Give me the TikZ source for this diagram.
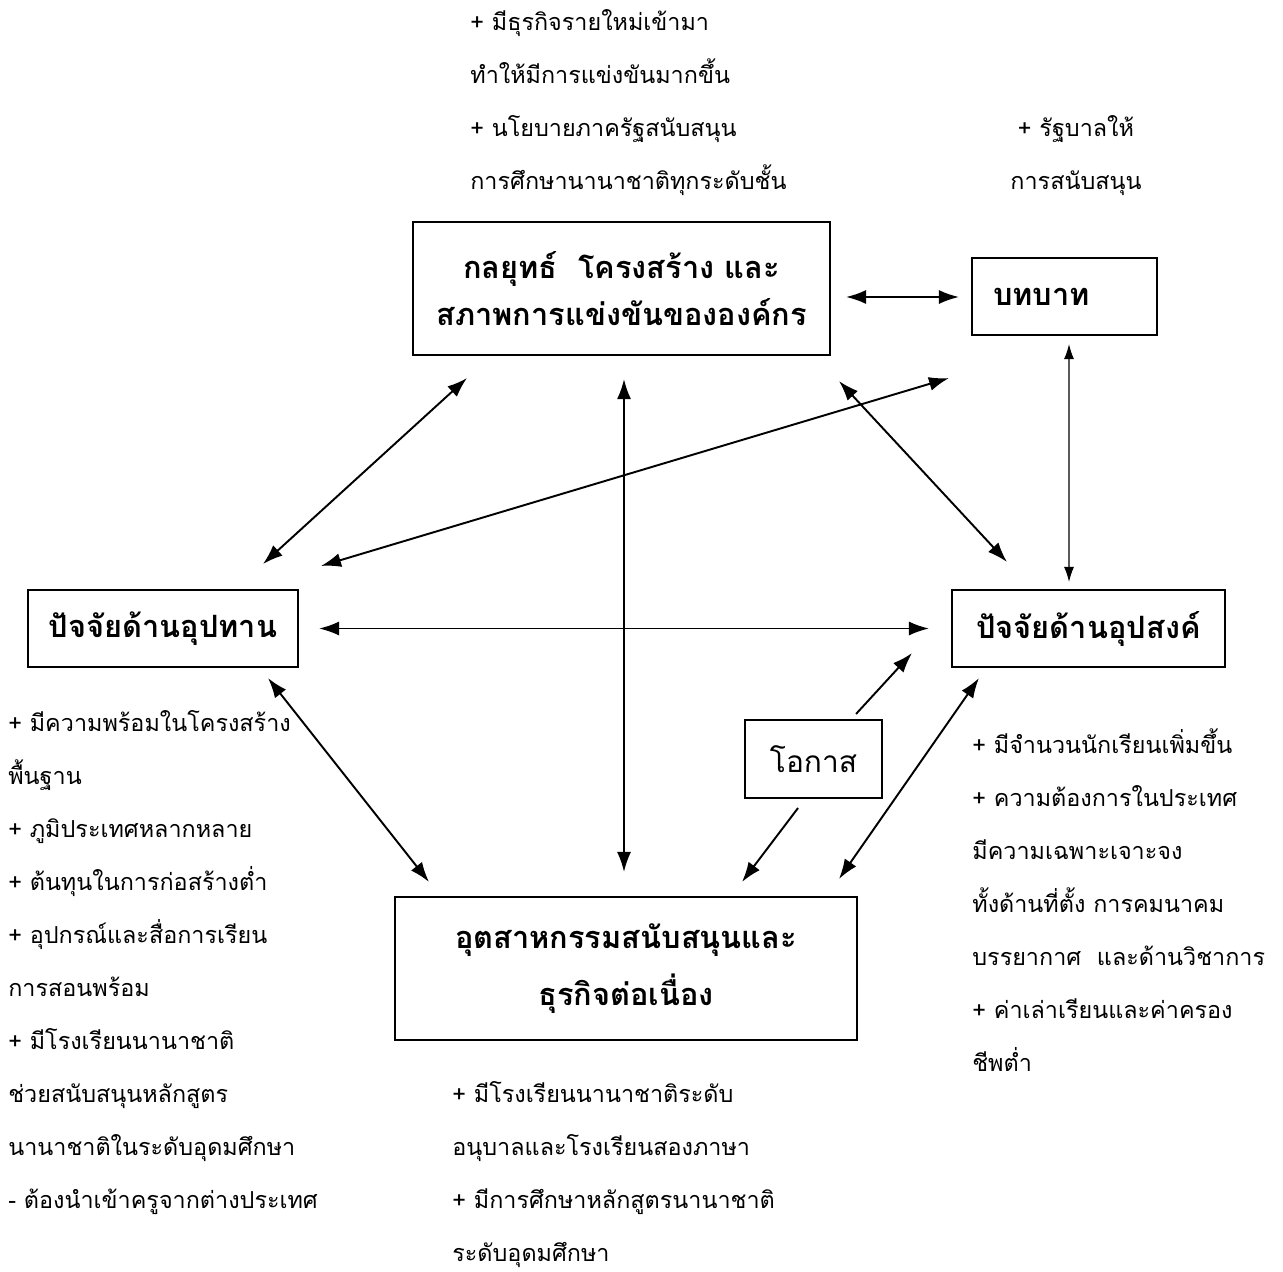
\documentclass[tikz,border=0pt]{standalone}
\usepackage{fontspec}
\newfontfamily\thaifont[Script=Thai]{Loma}
\usetikzlibrary{arrows.meta}
\begin{document}
\begin{tikzpicture}[x=0.02cm, y=-0.02cm,
		box/.style = {draw, line width=1.2pt, inner sep=0pt, align=center,
			font=\thaifont\bfseries\fontsize{17.5}{26.7}\selectfont},
		note/.style = {inner sep=0pt, align=left,
			font=\thaifont\fontsize{13.3}{30.16}\selectfont},
		link/.style = {{Latex[length=0.4cm,width=0.28cm]}-{Latex[length=0.4cm,width=0.28cm]}, line width=1.1pt},
		thinlink/.style = {{Latex[length=0.3cm,width=0.2cm]}-{Latex[length=0.3cm,width=0.2cm]}, line width=0.7pt},
		onelink/.style = {-{Latex[length=0.4cm,width=0.28cm]}, line width=1.1pt}]
	\useasboundingbox (0,0) rectangle (1283,1271);
	\node[box, minimum width=8.34cm, minimum height=2.66cm] (strat) at (621.5,288.5)
		{กลยุทธ์~ โครงสร้าง และ\\สภาพการแข่งขันขององค์กร};
	\node[box, minimum width=3.7cm, minimum height=1.54cm, text width=2.86cm,
		inner xsep=0.42cm, align=left] (role) at (1064.5,296.5) {บทบาท};
	\node[box, minimum width=5.4cm, minimum height=1.54cm] (sup) at (163,628.5) {ปัจจัยด้านอุปทาน};
	\node[box, minimum width=5.46cm, minimum height=1.54cm] (dem) at (1088.5,628.5) {ปัจจัยด้านอุปสงค์};
	\node[box, minimum width=2.74cm, minimum height=1.56cm, font=\thaifont\fontsize{17}{26}\selectfont]
		(opp) at (813.5,759) {โอกาส};
	\node[box, minimum width=9.24cm, minimum height=2.86cm, font=\thaifont\bfseries\fontsize{17.5}{32}\selectfont]
		(rel) at (626,968.5) {อุตสาหกรรมสนับสนุนและ\\ธุรกิจต่อเนื่อง};

	\node[note, anchor=base west] (topnote) at (470,189)
		{+ มีธุรกิจรายใหม่เข้ามา\\ทำให้มีการแข่งขันมากขึ้น\\+ นโยบายภาครัฐสนับสนุน\\การศึกษานานาชาติทุกระดับชั้น};
	\node[note, anchor=base, align=center] (rolenote) at (1076,189)
		{+ รัฐบาลให้\\การสนับสนุน};
	\node[note, anchor=base west] (supnote) at (8,1208)
		{+ มีความพร้อมในโครงสร้าง\\พื้นฐาน\\+ ภูมิประเทศหลากหลาย\\+ ต้นทุนในการก่อสร้างต่ำ\\+ อุปกรณ์และสื่อการเรียน\\การสอนพร้อม\\+ มีโรงเรียนนานาชาติ\\ช่วยสนับสนุนหลักสูตร\\นานาชาติในระดับอุดมศึกษา\\- ต้องนำเข้าครูจากต่างประเทศ};
	\node[note, anchor=base west] (demnote) at (972,1071)
		{+ มีจำนวนนักเรียนเพิ่มขึ้น\\+ ความต้องการในประเทศ\\มีความเฉพาะเจาะจง\\ทั้งด้านที่ตั้ง การคมนาคม\\บรรยากาศ~ และด้านวิชาการ\\+ ค่าเล่าเรียนและค่าครอง\\ชีพต่ำ};
	\node[note, anchor=base west] (relnote) at (452,1261)
		{+ มีโรงเรียนนานาชาติระดับ\\อนุบาลและโรงเรียนสองภาษา\\+ มีการศึกษาหลักสูตรนานาชาติ\\ระดับอุดมศึกษา};

	\draw[link] ([shift={(15,8.5)}]strat.east) -- ([shift={(-12,0.5)}]role.west);
	\draw[link] ([shift={(55,22)}]strat.south west) -- ([shift={(-36,-25)}]sup.north east);
	\draw[link] ([shift={(22,-23)}]sup.north east) -- ([shift={(-22,42)}]role.south west);
	\draw[link] ([shift={(8,25)}]strat.south east) -- ([shift={(56,-27)}]dem.north west);
	\draw[thinlink] ([shift={(4.5,8)}]role.south) -- ([shift={(-19.5,-7)}]dem.north);
	\draw[link] ([shift={(20,0)}]sup.east) -- ([shift={(-22,0)}]dem.west);
	\draw[link] ([shift={(2.5,23)}]strat.south) -- ([shift={(-2,-24)}]rel.north);
	\draw[link] ([shift={(-31,10)}]sup.south east) -- ([shift={(35,-14)}]rel.north west);
	\draw[onelink] ([shift={(-27,-5)}]opp.north east) -- ([shift={(-39,-15)}]dem.south west);
	\draw[onelink] ([shift={(-15.5,9)}]opp.south) -- ([shift={(116,-14)}]rel.north);
	\draw[link] ([shift={(28,10)}]dem.south west) -- ([shift={(-19,-17)}]rel.north east);
\end{tikzpicture}
\end{document}
